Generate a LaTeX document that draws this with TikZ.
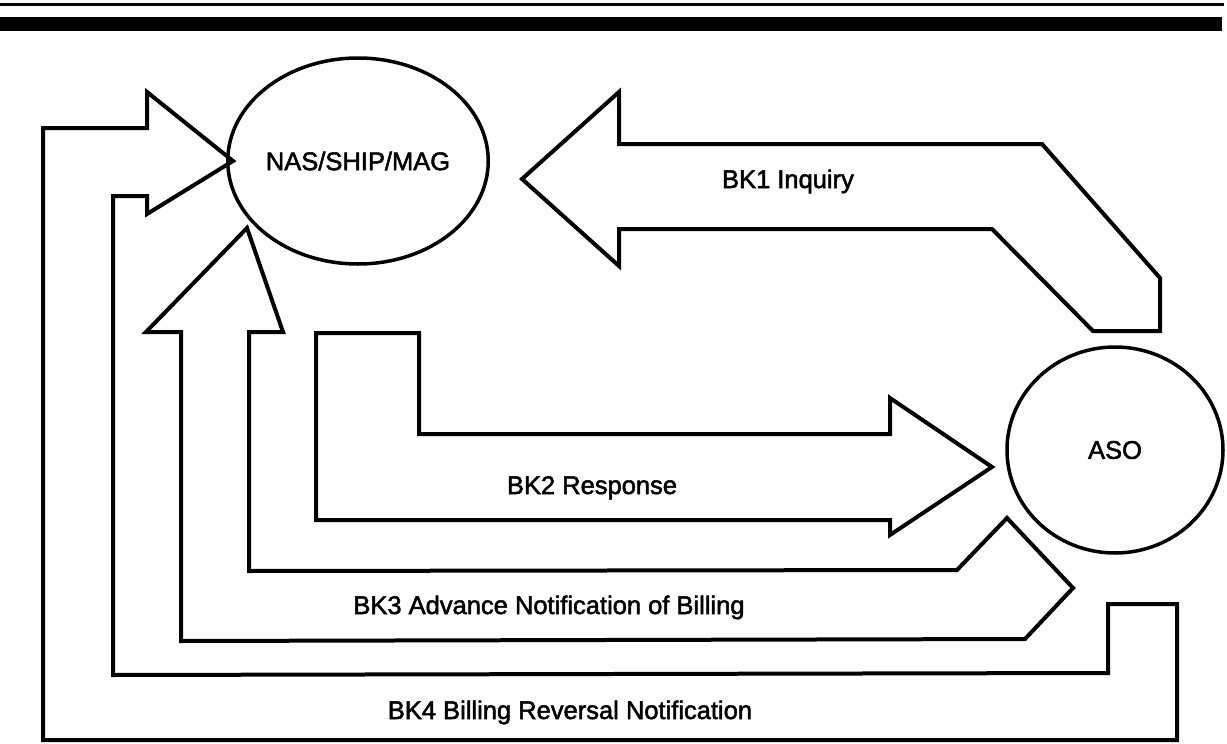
\documentclass[tikz,border=0pt]{standalone}
\usepackage{fontspec}
\setmainfont{Liberation Sans}[FakeBold=2]
\usetikzlibrary{shapes.geometric}
\begin{document}
\begin{tikzpicture}[x=1pt,y=-1pt,
  blk/.style={draw=black, line width=4pt, line join=miter, fill=white},
  bub/.style={draw=black, line width=3.5pt, ellipse, inner sep=0pt, font=\fontsize{25.5}{30}\selectfont},
  lbl/.style={font=\fontsize{25.5}{30}\selectfont, anchor=base, inner sep=0pt}]
\useasboundingbox (0,0) rectangle (1227,744);
\fill[white] (0,0) rectangle (1227,744);
% header rules
\draw[line width=3pt] (0,4.5) -- (1224,4.5);
\fill[black] (0,17) rectangle (1222,31);
% BK1 Inquiry (ASO -> NAS)
\draw[blk] (522,179) -- (619,92) -- (619,144) -- (1042,144) -- (1160,278) -- (1160,331)
  -- (1093,331) -- (992,229) -- (619,229) -- (619,266) -- cycle;
% BK2 Response (NAS -> ASO)
\draw[blk] (316,333) -- (419,333) -- (419,434) -- (890,434) -- (890,398) -- (992,467)
  -- (890,535) -- (890,520) -- (316,520) -- cycle;
% BK3 Advance Notification of Billing (ASO -> NAS)
\draw[blk] (247,228) -- (283,332) -- (249,332) -- (249,571) -- (957,570) -- (1007,518)
  -- (1073,588) -- (1025,639) -- (181,641) -- (181,332) -- (146,332) -- cycle;
% BK4 Billing Reversal Notification (ASO -> NAS)
\draw[blk] (233,161) -- (147,214) -- (147,196) -- (113,196) -- (113,675) -- (1108,673)
  -- (1108,604) -- (1177,604) -- (1177,740) -- (43,740) -- (43,128) -- (147,128)
  -- (147,92) -- cycle;
% entities
\node[bub, minimum width=222, minimum height=206] (nas) at (358,161) {NAS/SHIP/MAG};
\node[bub, minimum width=216, minimum height=206] (aso) at (1115,450) {ASO};
% labels
\node[lbl] (l1) at (788,188) {BK1 Inquiry};
\node[lbl] (l2) at (592,494) {BK2 Response};
\node[lbl] (l3) at (549,614) {BK3 Advance Notification of Billing};
\node[lbl] (l4) at (570,719) {BK4 Billing Reversal Notification};
\end{tikzpicture}
\end{document}
